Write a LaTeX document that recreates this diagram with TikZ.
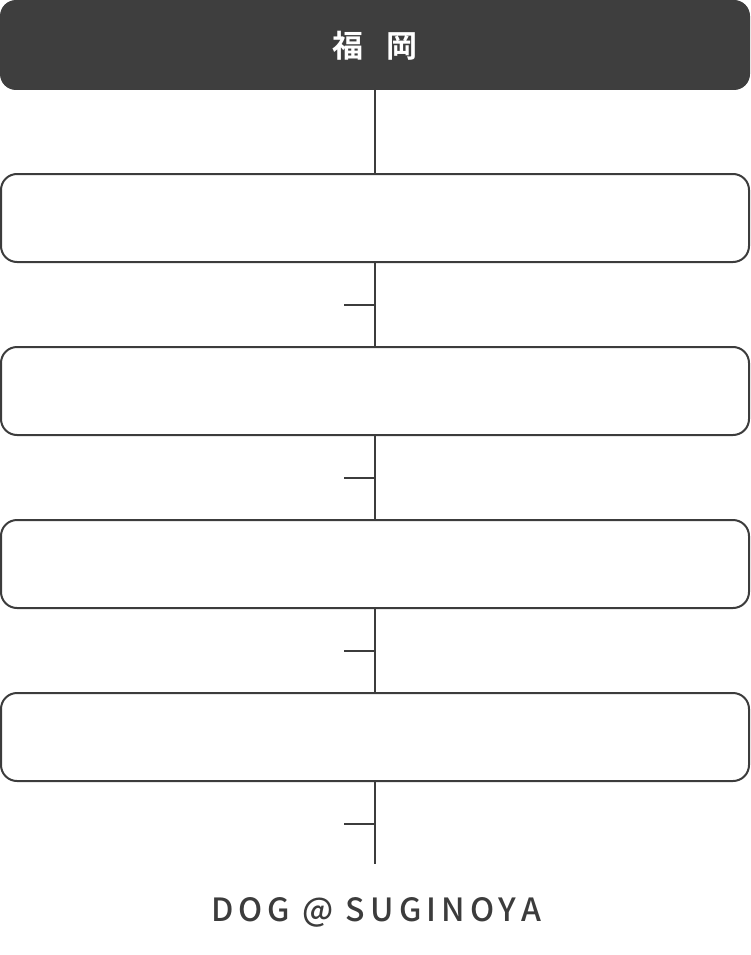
\documentclass[tikz,border=0pt]{standalone}
\usepackage{fontspec}
\newfontfamily\cjk{Noto Sans CJK JP}[BoldFont={* Bold}]
\newfontfamily\cjkmed{Noto Sans CJK JP}[UprightFont={* Medium}]
\definecolor{ink}{HTML}{3C3C3C}
\definecolor{head}{HTML}{3E3E3E}
\begin{document}
\begin{tikzpicture}[x=1pt,y=-1pt,
  stagebox/.style={draw=ink,line width=2pt,rounded corners=16pt,minimum width=748pt,minimum height=88pt,inner sep=0pt},
  headbox/.style={fill=head,rounded corners=16pt,minimum width=750pt,minimum height=90pt,inner sep=0pt},
  conn/.style={draw=ink,line width=2pt}]
\useasboundingbox (0,0) rectangle (750,955);
\node[headbox] (h) at (375,45) {};
\node[text=white,font=\cjk\bfseries\fontsize{31}{31}\selectfont,anchor=center] (ht) at (375,46) {福\hspace{24pt}岡};
\node[stagebox] (b1) at (375,218) {};
\node[stagebox] (b2) at (375,391) {};
\node[stagebox] (b3) at (375,564) {};
\node[stagebox] (b4) at (375,737) {};
\coordinate (e) at (375,864);
\coordinate (t1) at (375,305);
\coordinate (t2) at (375,478);
\coordinate (t3) at (375,651);
\coordinate (t4) at (375,824);
\draw[conn] (h.south) -- (b1.north);
\draw[conn] (b1.south) -- (b2.north);
\draw[conn] (b2.south) -- (b3.north);
\draw[conn] (b3.south) -- (b4.north);
\draw[conn] (b4.south) -- (e);
\foreach \t in {t1,t2,t3,t4} \draw[conn] (\t) -- ++(-31,0);
\node[text=ink,font=\cjkmed\fontsize{32}{32}\selectfont\addfontfeatures{LetterSpace=16},anchor=center] (ft) at (376,912) {DOG @ SUGINOYA};
\end{tikzpicture}
\end{document}
